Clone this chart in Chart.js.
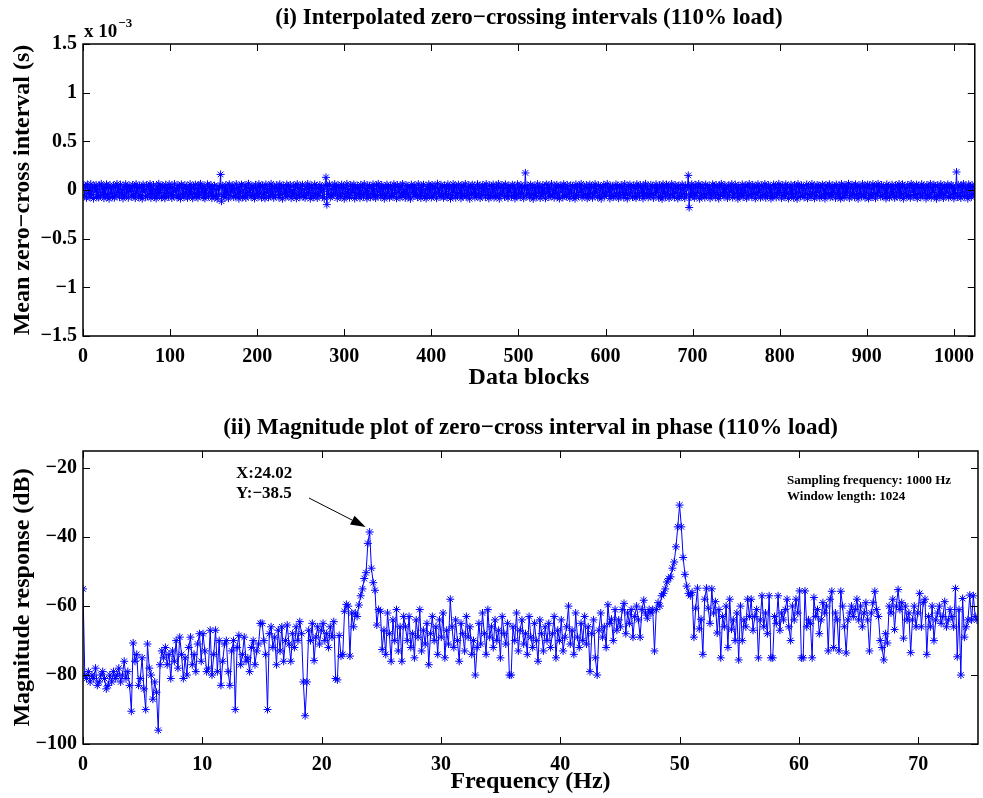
<!DOCTYPE html>
<html>
<head>
<meta charset="utf-8">
<script src="https://cdn.jsdelivr.net/npm/chart.js@4"></script>
<style>
  body { margin: 0; background: #fff; }
  #wrap { position: relative; width: 983px; height: 798px; }
  canvas { position: absolute; left: 0; }
</style>
</head>
<body>
<div id="wrap">
  <canvas id="zeroCross" width="983" height="400" style="top:0px"></canvas>
  <canvas id="magnitude" width="983" height="398" style="top:400px"></canvas>
</div>
<script>
// ---- data: (i) mean zero-cross interval per data block, in microseconds ----
const blockIntervalsUs = [
  48,-62,30,-81,57,-35,14,-74,61,-50,22,-88,40,-18,53,-69,9,-77,44,-58,63,-27,35,-84,18,-46,58,-71,27,-90,50,-38,
  11,-66,47,-80,33,-54,62,-24,20,-73,55,-42,7,-86,39,-61,59,-30,25,-79,46,-15,13,-68,52,-49,36,-83,60,-33,17,-75,
  43,-57,28,-89,56,-20,8,-72,49,-64,34,-45,61,-81,19,-37,51,-70,4,-87,41,-53,64,-26,23,-78,45,-60,31,-84,54,-41,
  15,-69,58,-34,38,-82,26,-56,62,-19,10,-76,47,-63,32,-88,57,-44,21,-71,50,-29,37,-80,6,-59,60,-48,24,-85,42,-36,
  55,-67,17,-79,48,-52,63,-23,29,-74,40,-86,12,-43,59,-65,35,-31,52,-83,20,-58,45,-70,5,-91,39,-47,30,160,-115,44,
  -62,27,-78,51,-39,9,-84,58,-55,33,-21,46,-73,14,-66,61,-45,24,-89,37,-30,56,-76,2,-60,49,-82,31,-51,64,-25,18,
  -71,43,-57,26,-87,53,-40,11,-68,60,-33,36,-79,47,-49,20,-85,57,-28,7,-75,41,-62,63,-44,16,-81,34,-54,50,-17,28,
  -77,59,-46,22,-90,45,-35,13,-70,56,-59,38,-24,52,-83,3,-64,48,-41,30,-86,61,-52,19,-73,42,-31,54,-67,10,-80,36,
  -50,62,-27,25,-88,46,-61,15,-74,57,-38,40,-82,21,-56,52,-20,33,-69,8,-85,49,130,-150,44,-43,58,-76,12,-63,37,-48,
  60,-22,29,-84,47,-58,18,-71,55,-34,39,-90,23,-65,62,-42,6,-78,50,-53,35,-26,57,-87,14,-60,44,-37,26,-81,53,-47,
  32,-69,61,-29,16,-86,48,-51,40,-75,21,-39,58,-64,9,-83,45,-56,63,-19,30,-72,52,-44,17,-89,37,-61,55,-32,24,-79,
  46,-54,11,-67,59,-40,34,-85,51,-23,27,-76,43,-59,62,-36,4,-81,49,-48,38,-70,20,-91,56,-28,31,-63,47,-45,13,-74,
  61,-57,25,-82,41,-33,54,-68,8,-87,36,-50,58,-21,19,-77,50,-62,42,-43,28,-84,64,-30,15,-66,53,-55,33,-80,47,-38,
  22,-73,57,-49,39,-88,12,-60,60,-26,44,-79,30,-52,55,-35,18,-85,48,-64,37,-41,62,-71,7,-58,50,-90,26,-46,54,-31,
  35,-76,14,-62,59,-39,43,-83,24,-55,52,-20,31,-72,61,-47,10,-86,46,-57,38,-28,56,-78,19,-65,41,-44,63,-89,27,-53,
  49,-34,16,-70,58,-60,33,-81,45,-25,23,-68,54,-50,40,-87,9,-63,60,-37,29,-74,51,-42,36,-84,20,175,-59,47,-30,13,
  -77,55,-45,32,-91,42,-56,17,-69,61,-27,37,-82,26,-61,50,-40,11,-85,57,-33,44,-72,22,-58,62,-48,8,-79,39,-36,53,
  -64,28,-88,46,-22,35,-75,59,-54,18,-66,52,-43,6,-83,48,-31,40,-70,24,-89,58,-51,30,-62,44,-24,63,-78,15,-57,34,
  -46,51,-85,21,-68,56,-35,41,-80,27,-52,60,-29,12,-74,47,-60,36,-90,19,-42,54,-67,31,-49,62,-23,25,-86,43,-55,38,
  -71,14,-63,57,-38,45,-84,23,-59,50,-26,33,-77,61,-47,9,-88,40,-53,55,-32,28,-73,46,-65,17,-81,59,-41,36,-69,52,
  -28,20,-86,44,-57,63,-36,31,-75,10,-61,53,-45,39,-82,26,-50,58,-24,15,-79,48,-66,34,-91,60,-40,22,-70,56,-34,42,
  -83,29,-54,62,-43,18,-76,50,-30,37,-87,45,-62,13,-68,57,-39,25,-84,47,-49,33,150,-180,41,-72,59,-37,20,-80,54,-58,
  35,-25,61,-89,24,-64,49,-42,16,-78,56,-51,30,-33,43,-85,11,-60,58,-27,39,-74,52,-46,21,-88,45,-56,63,-31,27,-69,
  50,-40,14,-82,47,-61,36,-22,60,-77,19,-53,55,-36,32,-90,43,-65,8,-47,57,-73,26,-29,48,-84,38,-58,62,-43,17,-71,
  53,-35,29,-86,41,-52,59,-24,12,-79,46,-63,34,-44,61,-81,22,-55,50,-30,37,-88,15,-67,56,-39,44,-75,25,-50,63,-26,
  31,-83,48,-57,18,-70,58,-34,40,-87,27,-45,54,-62,9,-78,51,-41,35,-91,60,-28,23,-66,46,-53,38,-76,14,-37,57,-84,
  42,-49,26,-72,62,-31,33,-85,19,-59,52,-23,45,-80,30,-64,55,-43,11,-89,49,-54,37,-36,59,-74,21,-61,47,-27,34,-82,
  56,-46,16,-68,43,-88,61,-33,28,-77,50,-56,38,-21,64,-83,24,-60,53,-42,13,-73,58,-50,36,-90,45,-35,20,-65,62,-48,
  39,-79,27,-30,55,-86,48,-58,15,-71,60,-39,32,-84,44,-52,63,-25,23,-69,51,-62,37,-45,18,-87,57,-32,41,-76,29,-55,
  54,-41,12,-81,47,-64,35,-28,61,-73,25,-50,58,-89,40,-34,20,-67,52,-57,31,-80,63,-22,44,-70,17,-47,56,-85,38,-36,
  26,-75,59,-53,43,-31,14,-88,50,-60,34,-42,62,-78,22,-26,55,-66,39,-90,48,-49,28,-72,60,-38,16,-83,45,-56,33,-29,
  57,-77,24,-62,51,-45,41,-86,19,-35,185,-70,53,-58,30,-82,46,-24,62,-67,36,-48,13,-89,58,-53,27,-71,49,-40,35,-63
];

// ---- data: (ii) magnitude spectrum, dB, one value per frequency bin ----
const freqStep = 0.150125; // Hz between bins
const magnitudeDb = [
  -55,-80,-81,-79,-82,-80,-81,-78,-83,-82,-80,-79,-81,-84,-83,-80,-82,-79,-81,-80,
  -78,-82,-80,-76,-81,-79,-83,-90.5,-70.7,-76,-74,-83,-81,-75,-84,-90,-71,-78,-80,-87,
  -82,-85,-96,-77,-73,-75,-72,-77,-74,-81,-73,-76,-70,-78,-69,-74,-81,-75,-80,-72,
  -69,-77,-74,-79,-71,-68,-76,-68,-73,-79,-78,-67,-80,-74,-67,-79,-70,-83,-76,-71,
  -70,-79,-83,-73,-70,-90,-72,-68.5,-77,-74,-69,-76,-75,-79,-72,-70,-77,-73,-71,-65,
  -65,-70,-74,-90,-68,-66,-72,-69,-77,-67,-73,-66,-76,-70,-65.5,-71,-76,-68,-72,-66,
  -70,-64.5,-68,-82,-91.8,-82,-67,-70,-65,-75.8,-69,-66,-71,-67,-65,-70,-68,-72,-66,-69,
  -64.5,-81,-81.4,-68.5,-74.5,-74,-61.5,-59.5,-60,-74.5,-62,-66,-62,-63,-59.7,-57,-55,-52,-50.3,-41.8,
  -38.5,-49,-53.2,-55.4,-65.5,-61,-61.5,-72.6,-67,-74,-62,-68,-76,-64,-70,-61,-73,-66,-76,-63,
  -66,-70,-63,-72,-68,-75,-64,-69,-61,-73,-67,-71,-65,-77,-68,-63,-70,-66,-74,-64,
  -69,-62,-75,-67,-71,-58,-66,-72,-64,-70,-76,-65,-68,-73,-63,-69,-66,-74,-70,-80,
  -72,-65,-71,-62,-68,-74,-61,-69,-66,-72,-64,-70,-67,-75,-63,-68,-71,-65,-80,-80,
  -66,-70,-62,-73,-67,-64,-71,-68,-74,-63,-69,-72,-65,-70,-76,-64,-68,-73,-66,-70,
  -65,-72,-68,-63,-75,-67,-70,-64,-73,-69,-66,-60,-71,-67,-74,-62,-69,-72,-65,-70,
  -63,-71,-66,-79,-68,-64,-75,-80,-67,-62,-69,-66,-72,-59.6,-65,-63.8,-70,-61,-67,-64,
  -66,-61,-59.2,-68,-62,-65,-61,-69,-63,-60,-64,-69,-61,-58.3,-62,-63.5,-61,-62,-61,-73,
  -61,-59,-60,-57,-56.3,-55,-53,-52,-51.5,-49,-47.2,-42.8,-37,-30.7,-37,-45.9,-50.8,-54.2,-56.3,-57,
  -56,-69,-60.6,-54.8,-66.6,-63.8,-74,-58,-54.8,-60.6,-65,-55,-62,-58.7,-67.8,-61,-75,-63,-66,-60,
  -72,-58,-66.7,-64,-70,-62,-75.6,-60,-70,-64,-66,-58,-63,-58,-67,-63,-61,-75,-64,-57,
  -66,-62,-68,-57,-75,-75,-63,-65,-57,-67,-62,-64,-61,-58,-66,-70,-60,-64,-58,-62,
  -55.6,-75,-75,-55.6,-66,-64,-65,-75,-57.5,-63,-61,-68,-64,-59,-62,-60,-73,-58,-55.7,-72,
  -62,-64,-73,-55.7,-60,-66,-73.6,-64,-62,-60,-63,-61,-58,-64,-60,-66,-62,-59,-64,-73,
  -62,-59,-55.7,-61,-63,-70,-72,-75.6,-68,-70.7,-60,-62,-58,-66.8,-60,-55.2,-61,-59,-69.3,-60,
  -64,-62,-73.5,-64,-60,-66,-62,-56.3,-66,-59,-58,-74,-63,-66,-60,-70,-64,-62,-60,-65,
  -63,-58.7,-66,-64,-61,-63,-66,-54.9,-74.7,-61,-80,-57.8,-69,-66,-64,-56.8,-64,-57,-63,-64
];

// ---- tick labels ----
const blockTicks = [0, 100, 200, 300, 400, 500, 600, 700, 800, 900, 1000];
const intervalTicks = [-1.5, -1, -0.5, 0, 0.5, 1, 1.5];
const freqTicks = [0, 10, 20, 30, 40, 50, 60, 70];
const dbTicks = [-100, -80, -60, -40, -20];

// data tip shown on the 24 Hz peak
const peakTip = { x: 24.02, y: -38.5 };

const serif = "'Liberation Serif', 'Times New Roman', serif";
const blue = '#0000ff';
const minus = v => String(v).replace('-', '\u2212');

// box round the axes, MATLAB style ticks inside on all four sides, and title
const framePlugin = {
  id: 'frame',
  afterDraw(chart, args, opts) {
    const { ctx, chartArea: a, scales } = chart;
    const tl = 7;
    ctx.save();
    ctx.strokeStyle = '#000';
    ctx.lineWidth = 1;
    ctx.beginPath();
    scales.x.ticks.forEach(t => {
      const px = Math.round(scales.x.getPixelForValue(t.value)) + 0.5;
      ctx.moveTo(px, a.bottom); ctx.lineTo(px, a.bottom - tl);
      ctx.moveTo(px, a.top); ctx.lineTo(px, a.top + tl);
    });
    scales.y.ticks.forEach(t => {
      const py = Math.round(scales.y.getPixelForValue(t.value)) + 0.5;
      ctx.moveTo(a.left, py); ctx.lineTo(a.left + tl, py);
      ctx.moveTo(a.right, py); ctx.lineTo(a.right - tl, py);
    });
    ctx.stroke();
    ctx.lineWidth = 1.5;
    ctx.strokeRect(a.left, a.top, a.right - a.left, a.bottom - a.top);

    ctx.fillStyle = '#000';
    ctx.font = `bold 23px ${serif}`;
    ctx.textAlign = 'center';
    ctx.textBaseline = 'middle';
    ctx.fillText(opts.title, (a.left + a.right) / 2, opts.titleY);
    ctx.restore();
  }
};

// "x 10^-3" exponent label over the top y axis
const exponentPlugin = {
  id: 'exponent',
  afterDraw(chart) {
    const { ctx, chartArea: a } = chart;
    ctx.save();
    ctx.fillStyle = '#000';
    ctx.textBaseline = 'alphabetic';
    ctx.font = `bold 19px ${serif}`;
    ctx.fillText('x 10', a.left + 1, 37);
    const w = ctx.measureText('x 10').width;
    ctx.font = `bold 13px ${serif}`;
    ctx.fillText('\u22123', a.left + 2 + w, 27);
    ctx.restore();
  }
};

// data tip, arrow and the two info lines on the spectrum
const notesPlugin = {
  id: 'notes',
  afterDraw(chart) {
    const { ctx, scales } = chart;
    const px = scales.x.getPixelForValue(peakTip.x);
    const py = scales.y.getPixelForValue(peakTip.y);
    ctx.save();
    ctx.fillStyle = '#000';
    ctx.strokeStyle = '#000';
    ctx.font = `bold 17px ${serif}`;
    ctx.textBaseline = 'alphabetic';
    ctx.fillText('X:' + peakTip.x.toFixed(2), 236, 78);
    ctx.fillText('Y:' + minus(peakTip.y), 236, 98);

    const sx = 309, sy = 98;
    const tx = px - 4, ty = py - 5;
    const ang = Math.atan2(ty - sy, tx - sx);
    const len = 15, half = 5;
    const bx = tx - len * Math.cos(ang), by = ty - len * Math.sin(ang);
    ctx.lineWidth = 1;
    ctx.beginPath();
    ctx.moveTo(sx, sy);
    ctx.lineTo(bx, by);
    ctx.stroke();
    ctx.beginPath();
    ctx.moveTo(tx, ty);
    ctx.lineTo(bx + half * Math.sin(ang), by - half * Math.cos(ang));
    ctx.lineTo(bx - half * Math.sin(ang), by + half * Math.cos(ang));
    ctx.closePath();
    ctx.fill();

    ctx.font = `bold 13px ${serif}`;
    ctx.fillText('Sampling frequency: 1000 Hz', 787, 84);
    ctx.fillText('Window length: 1024', 787, 100);
    ctx.restore();
  }
};

const tickFont = { family: serif, size: 20, weight: 'bold' };
const axisTitleFont = { family: serif, size: 24, weight: 'bold' };

function xScale(min, max, ticks, label, height, titlePad) {
  return {
    type: 'linear', min, max,
    afterBuildTicks: s => { s.ticks = ticks.map(v => ({ value: v })); },
    afterFit: s => { s.height = height; },
    grid: { display: false, drawTicks: false },
    border: { display: false },
    ticks: { font: tickFont, color: '#000', padding: 9, maxRotation: 0, autoSkip: false, callback: v => minus(v) },
    title: { display: true, text: label, font: axisTitleFont, color: '#000', padding: { top: 0, bottom: titlePad } }
  };
}

function yScale(min, max, ticks, label) {
  return {
    type: 'linear', min, max,
    afterBuildTicks: s => { s.ticks = ticks.map(v => ({ value: v })); },
    afterFit: s => { s.width = 83; },
    grid: { display: false, drawTicks: false },
    border: { display: false },
    ticks: { font: tickFont, color: '#000', padding: 6, callback: v => minus(v) },
    title: { display: true, text: label, font: axisTitleFont, color: '#000', padding: { top: 8, bottom: 0 } }
  };
}

const seriesStyle = {
  showLine: true,
  borderColor: blue,
  backgroundColor: blue,
  borderWidth: 1,
  pointStyle: 'star',
  pointRadius: 4,
  pointBorderColor: blue,
  pointBorderWidth: 1
};

new Chart(document.getElementById('zeroCross'), {
  type: 'scatter',
  data: {
    datasets: [{
      ...seriesStyle,
      data: blockIntervalsUs.map((v, i) => ({ x: i + 1, y: v / 1000 }))
    }]
  },
  options: {
    responsive: false,
    animation: false,
    devicePixelRatio: 1,
    layout: { padding: { top: 44, right: 1, left: 0, bottom: 0 } },
    plugins: {
      legend: { display: false },
      tooltip: { enabled: false },
      frame: { title: '(i) Interpolated zero\u2212crossing intervals (110% load)', titleY: 18 }
    },
    scales: {
      x: xScale(0, 1024, blockTicks, 'Data blocks', 64, 8),
      y: yScale(-1.5, 1.5, intervalTicks, 'Mean zero\u2212cross interval (s)')
    }
  },
  plugins: [framePlugin, exponentPlugin]
});

new Chart(document.getElementById('magnitude'), {
  type: 'scatter',
  data: {
    datasets: [{
      ...seriesStyle,
      data: magnitudeDb.map((v, i) => ({ x: i * freqStep, y: v }))
    }]
  },
  options: {
    responsive: false,
    animation: false,
    devicePixelRatio: 1,
    layout: { padding: { top: 51, right: 1, left: 0, bottom: 0 } },
    plugins: {
      legend: { display: false },
      tooltip: { enabled: false },
      frame: { title: '(ii) Magnitude plot of zero\u2212cross interval in phase (110% load)', titleY: 28 }
    },
    scales: {
      x: xScale(0, 75, freqTicks, 'Frequency (Hz)', 54, 2),
      y: yScale(-100, -15, dbTicks, 'Magnitude response (dB)')
    }
  },
  plugins: [framePlugin, notesPlugin]
});
</script>
</body>
</html>
